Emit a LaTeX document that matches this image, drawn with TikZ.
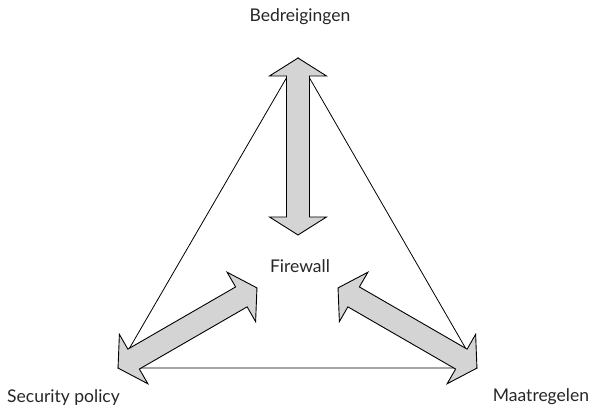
\documentclass[tikz,border=0pt]{standalone}
\usepackage{fontspec}
\setmainfont{Lato}
\usetikzlibrary{calc}

\tikzset{
  label/.style = {font=\fontsize{17.5}{20}\selectfont, text=black!85, inner sep=0pt, anchor=base},
  side/.style = {draw, line width=0.8pt},
  twoway/.style = {draw, line width=0.9pt, fill=black!17, line join=miter}
}

% double-headed block arrow: centre, angle, half length
\newcommand\twoway[3]{%
  \begin{scope}[shift={#1}, rotate=#2]
    \draw[twoway] (#3,0) -- (#3-18,28.5) -- (#3-18,11.5) -- (-#3+18,11.5)
      -- (-#3+18,28.5) -- (-#3,0) -- (-#3+18,-28.5) -- (-#3+18,-11.5)
      -- (#3-18,-11.5) -- (#3-18,-28.5) -- cycle;
  \end{scope}}

\begin{document}
\begin{tikzpicture}[x=1pt, y=1pt]
    \useasboundingbox (0,0) rectangle (598,409);

    % corners of the triangle
    \coordinate (top) at (298,351);
    \coordinate (left) at (118,41);
    \coordinate (right) at (477,41);

    \node[label] (threats) at (300,387) {Bedreigingen};
    \node[label] (firewall) at (300,136) {Firewall};
    \node[label, anchor=base west] (policy) at (7,6) {Security policy};
    \node[label] (measures) at (541,7) {Maatregelen};

    \draw[side] (top) -- (left) -- (right) -- cycle;

    \twoway{(298,262.5)}{90}{88.5}
    \twoway{(187.5,81)}{30}{80.2}
    \twoway{(407.5,81)}{150}{80.2}
\end{tikzpicture}
\end{document}
